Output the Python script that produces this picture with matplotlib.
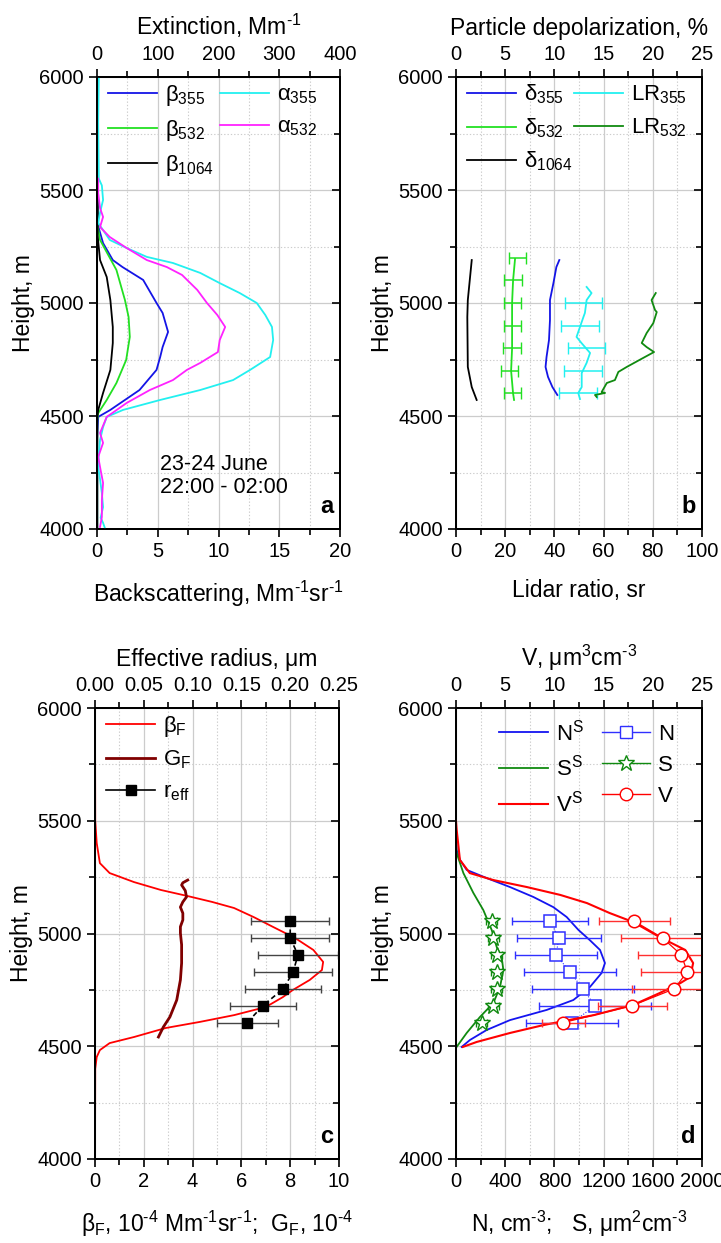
import matplotlib
matplotlib.use("Agg")
import matplotlib.pyplot as plt
from matplotlib.ticker import AutoMinorLocator, FormatStrFormatter
from matplotlib.lines import Line2D

plt.rcParams['font.family'] = ['Liberation Sans', 'DejaVu Sans']
plt.rcParams['mathtext.fontset'] = 'custom'
plt.rcParams['mathtext.rm'] = 'Liberation Sans'
plt.rcParams['mathtext.it'] = 'Liberation Sans'
plt.rcParams['mathtext.bf'] = 'Liberation Sans:bold'
plt.rcParams['axes.linewidth'] = 1.3

# --- Panel a : backscattering / extinction ---
beta355_h = [6000, 5500, 5340, 5265, 5190, 5159, 5102, 5000, 4956, 4872, 4805, 4761, 4704, 4615, 4527, 4496, 4400, 4000]
beta355 = [0.05, 0.05, 0.1, 0.5, 1.3, 2.1, 3.8, 4.9, 5.4, 5.85, 5.4, 5.2, 4.9, 3.5, 1.1, 0.1, 0.02, 0.02]
beta532_h = [6000, 5340, 5279, 5146, 5013, 4938, 4850, 4748, 4646, 4571, 4513, 4480, 4000]
beta532 = [0.02, 0.05, 0.25, 1.6, 2.3, 2.6, 2.7, 2.4, 1.6, 0.8, 0.1, 0.02, 0.02]
beta1064_h = [6000, 5300, 5190, 5115, 5013, 4894, 4823, 4704, 4602, 4527, 4490, 4000]
beta1064 = [0.02, 0.05, 0.25, 0.8, 1.1, 1.3, 1.3, 1.1, 0.5, 0.1, 0.02, 0.02]
alpha355_h = [6000, 5800, 5550, 5520, 5456, 5400, 5354, 5279, 5243, 5204, 5177, 5133, 5088, 5044, 5000, 4947,
              4894, 4836, 4761, 4704, 4659, 4615, 4571, 4527, 4496, 4451, 4394, 4330, 4274, 4220, 4159, 4097,
              4050, 4027, 4004]
alpha355 = [3, 2, 3, 8, 10, 5, 2, 21, 49, 82, 125, 170, 202, 235, 263, 277,
            288, 290, 285, 252, 224, 170, 104, 43, 16, 10, 5, 3, 2, 5, 8, 10,
            6, 10, 13]
alpha532_h = [5550, 5487, 5420, 5381, 5336, 5292, 5243, 5190, 5159, 5124, 5058, 5000, 4947, 4894, 4836, 4783,
              4735, 4704, 4659, 4615, 4558, 4496, 4425, 4381, 4319, 4260, 4204, 4128, 4053, 4009]
alpha532 = [2, 2, 5, 10, 5, 21, 49, 82, 115, 140, 165, 181, 198, 211, 202, 199,
            170, 148, 125, 87, 49, 16, 5, 10, 2, 6, 10, 8, 8, 5]

# --- Panel b : depolarization / lidar ratio ---
d1064_h = [5190, 5013, 4938, 4717, 4628, 4571]
d1064 = [1.6, 1.2, 1.15, 1.2, 1.6, 2.1]
d532_h = [5195, 5100, 5000, 4900, 4800, 4700, 4600, 4571]
d532 = [6.0, 5.8, 5.7, 5.7, 5.7, 5.6, 5.8, 5.9]
d532_eh = [5200, 5100, 5000, 4900, 4800, 4700, 4600]
d532_ev = [6.25, 5.8, 5.75, 5.75, 5.7, 5.45, 5.75]
d532_err = 0.9
d355_h = [5190, 5159, 5088, 5013, 4925, 4836, 4761, 4717, 4673, 4628, 4593]
d355 = [10.5, 10.2, 9.9, 9.55, 9.55, 9.45, 9.2, 9.1, 9.35, 9.8, 10.3]
lr355_h = [5071, 5044, 5013, 4956, 4938, 4894, 4850, 4823, 4779, 4735, 4690, 4628, 4602, 4575]
lr355 = [53.1, 55.1, 53.1, 52.4, 51.8, 50.4, 49.0, 51.0, 54.5, 53.1, 51.1, 51.1, 49.7, 50.4]
lr355_eh = [5000, 4900, 4800, 4700, 4600]
lr355_ev = [51.9, 50.4, 53.1, 51.6, 49.6]
lr355_err = 7.6
lr532_h = [5044, 5013, 4969, 4960, 4911, 4867, 4823, 4805, 4783, 4757, 4717, 4695, 4659, 4646, 4606, 4602, 4593, 4584]
lr532 = [81.2, 79.5, 80.9, 81.6, 80.2, 77.5, 75.5, 77.5, 80.5, 76.1, 69.4, 66.0, 64.6, 61.3, 59.2, 60.6, 56.5, 57.2]

# --- Panel c : betaF, GF, r_eff ---
betaF_h = [6000, 5500, 5401, 5312, 5268, 5228, 5193, 5166, 5140, 5113, 5073, 5029, 4980, 4927, 4874, 4838,
           4794, 4749, 4718, 4674, 4638, 4608, 4581, 4541, 4514, 4483, 4452, 4400, 4000]
betaF = [0, 0.01, 0.07, 0.2, 0.6, 1.6, 2.7, 3.8, 4.8, 5.7, 6.5, 7.3, 8.2, 8.95, 9.35, 9.3,
         8.8, 8.1, 7.7, 7.0, 5.7, 4.3, 2.9, 1.6, 0.6, 0.2, 0.07, 0.01, 0]
GF_h = [5237, 5225, 5215, 5190, 5162, 5140, 5117, 5090, 5060, 5030, 5002, 4950, 4869, 4794, 4705, 4630, 4585, 4541]
GF = [3.8, 3.6, 3.55, 3.7, 3.75, 3.6, 3.5, 3.6, 3.6, 3.5, 3.5, 3.55, 3.55, 3.5, 3.35, 3.07, 2.8, 2.6]
pts_h = [5055, 4980, 4905, 4830, 4755, 4680, 4605]
reff = [0.200, 0.200, 0.208, 0.203, 0.193, 0.172, 0.156]
reff_err = [0.040, 0.040, 0.041, 0.040, 0.039, 0.034, 0.031]

# --- Panel d : N, S, V ---
NS_h = [5500, 5420, 5370, 5326, 5282, 5246, 5206, 5162, 5117, 5073, 5016, 4970, 4927, 4869, 4825, 4763,
        4705, 4661, 4616, 4572, 4528, 4497]
NS = [0, 2, 5, 33, 87, 249, 439, 629, 791, 900, 995, 1089, 1171, 1211, 1184, 1089,
      954, 737, 439, 249, 114, 46]
SS_h = [5500, 5400, 5357, 5268, 5180, 5104, 5016, 4940, 4896, 4838, 4763, 4692, 4630, 4559, 4497]
SS = [0, 1, 5, 60, 141, 222, 290, 331, 371, 385, 358, 304, 195, 87, 5]
VS_h = [5500, 5459, 5326, 5268, 5237, 5206, 5171, 5135, 5091, 5051, 4984, 4927, 4869, 4807, 4780, 4736,
        4683, 4638, 4594, 4559, 4519, 4497]
VS = [0, 0.07, 0.4, 1.4, 3.8, 7.2, 10.6, 13.3, 15.6, 18.0, 20.7, 23.3, 24.1, 23.8, 22.8, 20.7,
      18.0, 14.0, 8.9, 5.5, 2.1, 0.7]
N_pts = [764, 837, 813, 927, 1030, 1130, 946]
N_err = [311, 340, 330, 373, 416, 457, 374]
S_pts = [290, 304, 331, 331, 331, 304, 209]
S_err = 45
V_pts = [18.1, 21.0, 22.9, 23.5, 22.2, 17.9, 10.9]
V_err = [3.6, 4.2, 4.4, 4.7, 4.3, 3.5, 2.2]

TICK_FS = 14.5
LAB_FS = 16.5
LEG_FS = 16

fig = plt.figure(figsize=(7.21, 12.43), dpi=100)
W, H = 721.0, 1243.0
M1 = '\u2010' + '1'  # hyphen-style "-1" exponent


def make_panel(px, xlim, xticks, tlim, tticks, xlabel, tlabel, letter, tfmt=None):
    left, top, right, bottom = px
    ax = fig.add_axes([left / W, 1 - bottom / H, (right - left) / W, (bottom - top) / H])
    ax.set_ylim(4000, 6000)
    ax.set_yticks([4000, 4500, 5000, 5500, 6000])
    ax.set_xlim(*xlim)
    ax.set_xticks(xticks)
    ax.xaxis.set_minor_locator(AutoMinorLocator(2))
    ax.yaxis.set_minor_locator(AutoMinorLocator(2))
    ax.grid(which='major', color='#cccccc', lw=0.9, ls='-')
    ax.grid(which='minor', color='#cccccc', lw=0.8, ls=(0, (1.2, 1.8)))
    ax.set_axisbelow(True)
    ax.tick_params(which='both', direction='out', labelsize=TICK_FS, width=1.2)
    ax.tick_params(which='major', length=6)
    ax.tick_params(which='minor', length=4)
    ax.set_ylabel('Height, m', fontsize=LAB_FS, labelpad=3)
    ax.set_xlabel(xlabel, fontsize=LAB_FS, labelpad=13)

    axr = ax.twinx()
    axr.set_ylim(4000, 6000)
    axr.set_yticks([4000, 4500, 5000, 5500, 6000])
    axr.yaxis.set_minor_locator(AutoMinorLocator(2))
    axr.tick_params(which='both', direction='in', labelright=False, width=1.2)
    axr.tick_params(which='major', length=6)
    axr.tick_params(which='minor', length=4)

    axt = ax.twiny()
    axt.set_xlim(*tlim)
    axt.set_xticks(tticks)
    axt.xaxis.set_minor_locator(AutoMinorLocator(2))
    axt.tick_params(which='both', direction='out', labelsize=TICK_FS, width=1.2)
    axt.tick_params(which='major', length=6)
    axt.tick_params(which='minor', length=4)
    axt.set_xlabel(tlabel, fontsize=LAB_FS, labelpad=7)
    if tfmt:
        axt.xaxis.set_major_formatter(FormatStrFormatter(tfmt))
    ax.text(0.975, 0.025, letter, transform=ax.transAxes, ha='right', va='bottom',
            fontsize=17, fontweight='bold')
    return ax, axt


# panel a
ax, axt = make_panel((97, 77, 340, 529), (0, 20), [0, 5, 10, 15, 20], (0, 400), [0, 100, 200, 300, 400],
                     'Backscattering, Mm$^{%s}$sr$^{%s}$' % (M1, M1), 'Extinction, Mm$^{%s}$' % M1, 'a')
l1, = ax.plot(beta355, beta355_h, color='#1414e6', lw=1.3)
l2, = ax.plot(beta532, beta532_h, color='#22e022', lw=1.3)
l3, = ax.plot(beta1064, beta1064_h, color='black', lw=1.3)
l4, = axt.plot(alpha355, alpha355_h, color='#22f0f0', lw=1.3)
l5, = axt.plot(alpha532, alpha532_h, color='#ff22ff', lw=1.3)
ax.text(5.2, 4235, '23-24 June\n22:00 - 02:00', fontsize=15.5, ha='left', va='center', linespacing=1.15)
axt.legend([l1, l2, l3, l4, l5],
           [r'$\beta_{355}$', r'$\beta_{532}$', r'$\beta_{1064}$', r'$\alpha_{355}$', r'$\alpha_{532}$'],
           ncol=2, loc='upper left', bbox_to_anchor=(0, 1.012), frameon=False, fontsize=LEG_FS,
           handlelength=2.2, handletextpad=0.35, columnspacing=0.3, labelspacing=0.45, borderaxespad=0.1)

# panel b
ax, axt = make_panel((456, 77, 702, 529), (0, 100), [0, 20, 40, 60, 80, 100], (0, 25), [0, 5, 10, 15, 20, 25],
                     'Lidar ratio, sr', 'Particle depolarization, %', 'b')
b1, = axt.plot(d355, d355_h, color='#1414e6', lw=1.3)
b2, = axt.plot(d532, d532_h, color='#22e022', lw=1.3)
axt.errorbar(d532_ev, d532_eh, xerr=d532_err, fmt='none', ecolor='#22e022', elinewidth=1.1, capsize=4)
b3, = axt.plot(d1064, d1064_h, color='black', lw=1.3)
b4, = ax.plot(lr355, lr355_h, color='#22f0f0', lw=1.3)
ax.errorbar(lr355_ev, lr355_eh, xerr=lr355_err, fmt='none', ecolor='#22f0f0', elinewidth=1.1, capsize=4)
b5, = ax.plot(lr532, lr532_h, color='#108a10', lw=1.3)
axt.legend([b1, b2, b3, b4, b5],
           [r'$\delta_{355}$', r'$\delta_{532}$', r'$\delta_{1064}$', r'LR$_{355}$', r'LR$_{532}$'],
           ncol=2, loc='upper left', bbox_to_anchor=(0, 1.012), frameon=False, fontsize=LEG_FS,
           handlelength=2.2, handletextpad=0.35, columnspacing=0.1, labelspacing=0.45, borderaxespad=0.1)

# panel c
ax, axt = make_panel((95, 708, 339, 1159), (0, 10), [0, 2, 4, 6, 8, 10], (0, 0.25),
                     [0, 0.05, 0.10, 0.15, 0.20, 0.25],
                     r'$\beta_F$, 10$^{-4}$ Mm$^{%s}$sr$^{%s}$;  G$_F$, 10$^{-4}$'.replace('-4', '\u20104') % (M1, M1),
                     'Effective radius, μm', 'c', tfmt='%.2f')
c1, = ax.plot(betaF, betaF_h, color='red', lw=1.3)
c2, = ax.plot(GF, GF_h, color='#800000', lw=2.0)
axt.errorbar(reff, pts_h, xerr=reff_err, fmt='none', ecolor='#444444', elinewidth=1.0, capsize=3)
axt.plot(reff, pts_h, color='black', lw=1.2, ls=(0, (3, 2)))
axt.plot(reff, pts_h, ls='none', marker='s', color='black', ms=7.5)
c3 = Line2D([], [], color='black', lw=1.2, marker='s', ms=7.5)
axt.legend([c1, c2, c3], [r'$\beta_F$', r'G$_F$', r'r$_{eff}$'],
           loc='upper left', bbox_to_anchor=(0, 1.012), frameon=False, fontsize=LEG_FS, handlelength=2.2,
           handletextpad=0.35, labelspacing=0.45, borderaxespad=0.1)

# panel d
ax, axt = make_panel((456, 708, 702, 1159), (0, 2000), [0, 400, 800, 1200, 1600, 2000], (0, 25),
                     [0, 5, 10, 15, 20, 25],
                     'N, cm$^{\u20103}$;   S, μm$^{2}$cm$^{\u20103}$', 'V, μm$^{3}$cm$^{\u20103}$', 'd')
d1, = ax.plot(NS, NS_h, color='#1414f0', lw=1.3)
d2, = ax.plot(SS, SS_h, color='#108a10', lw=1.3)
ax.errorbar(N_pts, pts_h, xerr=N_err, fmt='none', ecolor='#3030ff', elinewidth=1.0, capsize=3)
ax.plot(N_pts, pts_h, color='#3030ff', lw=0.8, ls=(0, (1, 1.5)))
ax.plot(N_pts, pts_h, ls='none', marker='s', ms=8, mfc='white', mec='#3030ff', mew=1.1)
ax.errorbar(S_pts, pts_h, xerr=S_err, fmt='none', ecolor='#108a10', elinewidth=1.0, capsize=3)
ax.plot(S_pts, pts_h, ls='none', marker='*', ms=12, mfc='white', mec='#108a10', mew=1.0)
d3, = axt.plot(VS, VS_h, color='red', lw=1.5)
axt.errorbar(V_pts, pts_h, xerr=V_err, fmt='none', ecolor='#ff3030', elinewidth=1.0, capsize=3)
axt.plot(V_pts, pts_h, color='red', lw=0.9)
axt.plot(V_pts, pts_h, ls='none', marker='o', ms=9, mfc='white', mec='red', mew=1.1)
h4 = Line2D([], [], color='#3030ff', lw=1.0, marker='s', ms=8, mfc='white', mec='#3030ff')
h5 = Line2D([], [], color='#108a10', lw=1.0, marker='*', ms=12, mfc='white', mec='#108a10')
h6 = Line2D([], [], color='red', lw=1.0, marker='o', ms=9, mfc='white', mec='red')
axt.legend([d1, d2, d3, h4, h5, h6], [r'N$^S$', r'S$^S$', r'V$^S$', 'N', 'S', 'V'],
           ncol=2, loc='upper left', bbox_to_anchor=(0.13, 1.0), frameon=False, fontsize=LEG_FS,
           handlelength=2.2, handletextpad=0.35, columnspacing=0.8, labelspacing=0.45, borderaxespad=0.1)

fig.savefig('out.png', dpi=100)
